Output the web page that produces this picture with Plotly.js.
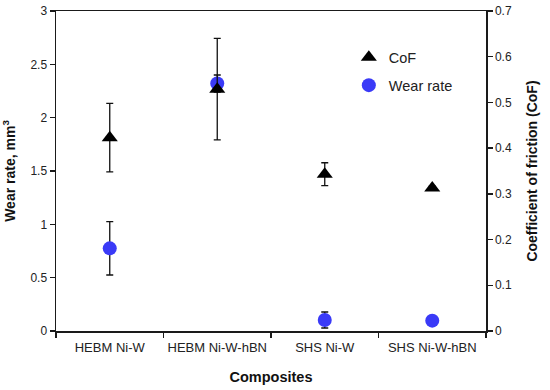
<!DOCTYPE html>
<html>
<head>
<meta charset="utf-8">
<script src="https://cdn.plot.ly/plotly-3.0.1.min.js"></script>
<style>html,body{margin:0;padding:0;background:#fff;}#chart{width:550px;height:390px;}</style>
</head>
<body>
<div id="chart"></div>
<script>
var categories = ["HEBM Ni-W", "HEBM Ni-W-hBN", "SHS Ni-W", "SHS Ni-W-hBN"];
var wearRate = [0.775, 2.32, 0.103, 0.097];
var wearErr = [0.25, 0.08, 0.075, 0];
var cof = [0.423, 0.529, 0.343, 0.313];
var cofErr = [0.075, 0.111, 0.025, 0.004];
var leftTicks = [0, 0.5, 1, 1.5, 2, 2.5, 3];
var rightTicks = [0, 0.1, 0.2, 0.3, 0.4, 0.5, 0.6, 0.7];
var boundaries = [-0.5, 0.5, 1.5, 2.5, 3.5];

var FONT = "Liberation Sans, Arial, sans-serif";
var AX = "#1a1a1a";

var traces = [
  {
    x: categories, y: wearRate, name: "Wear rate", type: "scatter", mode: "markers",
    xaxis: "x", yaxis: "y", legendgroup: "w", legendrank: 2,
    marker: {symbol: "circle", size: 14, color: "#3a3af7"},
    error_y: {type: "data", array: wearErr, visible: true, color: "#111", thickness: 1.3, width: 3.5}
  },
  {
    x: categories, y: cof, name: "CoF", type: "scatter", mode: "markers",
    xaxis: "x", yaxis: "y2", legendgroup: "c", legendrank: 1,
    marker: {symbol: "triangle-up", size: 14, color: "#000"},
    error_y: {type: "data", array: cofErr, visible: true, color: "#111", thickness: 1.3, width: 3.5}
  }
];

var layout = {
  width: 550, height: 390,
  margin: {l: 56, r: 64, t: 11, b: 59},
  paper_bgcolor: "#fff", plot_bgcolor: "#fff",
  font: {family: FONT, color: "#222", size: 12},
  showlegend: true,
  legend: {x: 0.681, y: 0.905, xanchor: "left", yanchor: "top", traceorder: "grouped", tracegroupgap: 6,
           font: {size: 14.5, family: FONT, color: "#222"}, bgcolor: "rgba(0,0,0,0)"},
  xaxis: {
    type: "category", categoryorder: "array", categoryarray: categories, automargin: false,
    range: [-0.5, 3.5], tickson: "boundaries", tickangle: 0, ticks: "outside", ticklen: 5, tickwidth: 1.3, tickcolor: AX,
    ticklabelstandoff: 4,
    showline: true, linecolor: AX, linewidth: 1.5, mirror: true, showgrid: false, zeroline: false,
    tickfont: {size: 13, family: FONT, color: "#222"},
    title: {text: "<b>Composites</b>", font: {size: 14.5, family: FONT, color: "#111"}, standoff: 18}
  },
  xaxis2: {
    overlaying: "x", anchor: "y", type: "linear", range: [-0.5, 3.5], tickmode: "array", tickvals: boundaries,
    ticks: "inside", ticklen: 3, tickwidth: 1.3, tickcolor: AX, showticklabels: false,
    showline: false, showgrid: false, zeroline: false
  },
  yaxis: {
    range: [0, 3], tickmode: "array", tickvals: leftTicks, ticks: "outside", ticklen: 5, tickwidth: 1.3, tickcolor: AX,
    showline: true, linecolor: AX, linewidth: 1.5, showgrid: false, zeroline: false, automargin: false,
    tickfont: {size: 12, family: FONT, color: "#222"},
    title: {text: "<b>Wear rate, mm<sup>3</sup></b>", font: {size: 14, family: FONT, color: "#111"}, standoff: 12}
  },
  yaxis2: {
    overlaying: "y", side: "right", anchor: "x", range: [0, 0.7], tickmode: "array", tickvals: rightTicks,
    ticks: "outside", ticklen: 5, tickwidth: 1.3, tickcolor: AX, automargin: false,
    showline: true, linecolor: AX, linewidth: 1.5, showgrid: false, zeroline: false,
    tickfont: {size: 12, family: FONT, color: "#222"},
    title: {text: "<b>Coefficient of friction (CoF)</b>", font: {size: 14, family: FONT, color: "#111"}, standoff: 16}
  },
  yaxis3: {
    overlaying: "y", side: "left", anchor: "x", range: [0, 3], tickmode: "array", tickvals: leftTicks,
    ticks: "inside", ticklen: 3, tickwidth: 1.3, tickcolor: AX, showticklabels: false,
    showline: false, showgrid: false, zeroline: false
  },
  yaxis4: {
    overlaying: "y", side: "right", anchor: "x", range: [0, 0.7], tickmode: "array", tickvals: rightTicks,
    ticks: "inside", ticklen: 3, tickwidth: 1.3, tickcolor: AX, showticklabels: false,
    showline: false, showgrid: false, zeroline: false
  }
};

Plotly.newPlot("chart", traces, layout, {staticPlot: true, displayModeBar: false});
</script>
</body>
</html>
